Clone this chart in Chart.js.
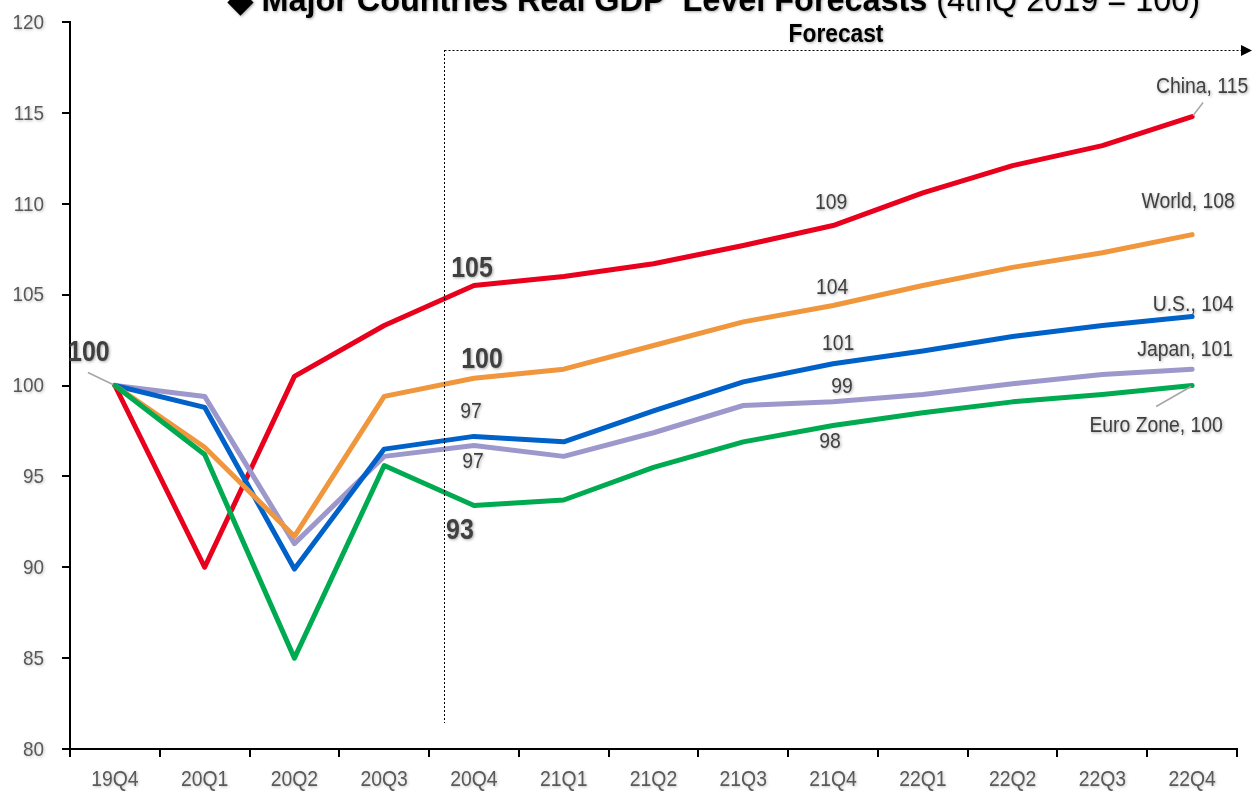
<!DOCTYPE html>
<html><head><meta charset="utf-8">
<script src="https://cdn.jsdelivr.net/npm/chart.js@4/dist/chart.umd.min.js"></script>
<style>html,body{margin:0;padding:0;background:#fff;}canvas{display:block;}</style>
</head><body>
<canvas id="c" width="1252" height="791"></canvas>
<script>
const categories = ['19Q4','20Q1','20Q2','20Q3','20Q4','21Q1','21Q2','21Q3','21Q4','22Q1','22Q2','22Q3','22Q4'];
const china = [100, 90.0, 100.5, 103.3, 105.5, 106.0, 106.7, 107.7, 108.8, 110.6, 112.1, 113.2, 114.8];
const world = [100, 96.6, 91.7, 99.4, 100.4, 100.9, 102.2, 103.5, 104.4, 105.5, 106.5, 107.3, 108.3];
const us    = [100, 98.8, 89.9, 96.5, 97.2, 96.9, 98.6, 100.2, 101.2, 101.9, 102.7, 103.3, 103.8];
const japan = [100, 99.4, 91.3, 96.1, 96.7, 96.1, 97.4, 98.9, 99.1, 99.5, 100.1, 100.6, 100.9];
const euro  = [100, 96.2, 85.0, 95.6, 93.4, 93.7, 95.5, 96.9, 97.8, 98.5, 99.1, 99.5, 100.0];
const yTicks = [80, 85, 90, 95, 100, 105, 110, 115, 120];
const titleMain = '◆ Major Countries Real GDP  Level Forecasts ';
const titleSub = '(4thQ 2019 = 100)';
const forecastText = 'Forecast';

const FONT = "'Liberation Sans', Arial, sans-serif";
const SX = 0.9; // horizontal squeeze to mimic a narrow face

// annotation texts (series index, category index, text, style, offset)
const labels = [
  {s:1, i:0, t:'100', bold:true, dx:-26, dy:-34, lead:[-27,-13,-2,-1]},
  {s:4, i:4, t:'105', bold:true, dx:-2, dy:-18},
  {s:1, i:4, t:'100', bold:true, dx:8, dy:-19},
  {s:2, i:4, t:'97', dx:-3, dy:-25},
  {s:3, i:4, t:'97', dx:-1, dy:15},
  {s:0, i:4, t:'93', bold:true, dx:-14, dy:25},
  {s:4, i:8, t:'109', dx:-2, dy:-24},
  {s:1, i:8, t:'104', dx:-1, dy:-19},
  {s:2, i:8, t:'101', dx:5, dy:-21},
  {s:3, i:8, t:'99', dx:9, dy:-16},
  {s:0, i:8, t:'98', dx:-3, dy:15},
  {s:4, i:12, t:'China, 115', dx:10, dy:-31, lead:[11,-14,1,-1]},
  {s:1, i:12, t:'World, 108', dx:-4, dy:-34},
  {s:2, i:12, t:'U.S., 104', dx:1, dy:-12},
  {s:3, i:12, t:'Japan, 101', dx:-7, dy:-20},
  {s:0, i:12, t:'Euro Zone, 100', dx:-36, dy:39, lead:[-36,21,-1,1]}
];

function txt(ctx, s, x, y, font, align, sx){
  ctx.save();
  ctx.font = font;
  ctx.translate(x, y);
  ctx.scale(sx, 1);
  ctx.textAlign = align;
  ctx.fillText(s, 0, 0);
  ctx.restore();
}
function shadowOn(ctx){ ctx.shadowColor = 'rgba(0,0,0,0.35)'; ctx.shadowBlur = 3; ctx.shadowOffsetX = 1; ctx.shadowOffsetY = 1; }

const annot = {
  id:'annot',
  afterDraw(chart){
    const ctx = chart.ctx, xs = chart.scales.x, ys = chart.scales.y;
    ctx.save();
    // forecast region lines
    const step = xs.getPixelForValue(4) - xs.getPixelForValue(3);
    const fx = Math.round(xs.getPixelForValue(3) + 0.67*step) + 0.5;
    ctx.strokeStyle = '#000'; ctx.lineWidth = 1; ctx.setLineDash([2,2]);
    ctx.beginPath(); ctx.moveTo(fx, 50); ctx.lineTo(fx, 723); ctx.stroke();
    ctx.beginPath(); ctx.moveTo(fx, 50.5); ctx.lineTo(1241, 50.5); ctx.stroke();
    ctx.setLineDash([]);
    ctx.fillStyle = '#000';
    ctx.beginPath(); ctx.moveTo(1241,45); ctx.lineTo(1252,50.5); ctx.lineTo(1241,56); ctx.closePath(); ctx.fill();

    ctx.textBaseline = 'middle';
    // tick labels
    ctx.fillStyle = '#595959';
    shadowOn(ctx); ctx.shadowColor = 'rgba(0,0,0,0.25)';
    for (const v of yTicks) txt(ctx, String(v), 44, ys.getPixelForValue(v) + 1, '21px ' + FONT, 'right', SX);
    categories.forEach((c, i) => txt(ctx, c, xs.getPixelForValue(i), 780, '22px ' + FONT, 'center', 0.88));

    shadowOn(ctx);
    // title
    ctx.fillStyle = '#000';
    ctx.textBaseline = 'alphabetic'; ctx.textAlign = 'left';
    ctx.font = 'bold 33px ' + FONT;
    const w1 = ctx.measureText(titleMain).width;
    ctx.font = '33px ' + FONT;
    const w2 = ctx.measureText(titleSub).width;
    const tsx = 972 / (w1 + w2), tx = 228;
    txt(ctx, titleMain, tx, 11, 'bold 33px ' + FONT, 'left', tsx);
    txt(ctx, titleSub, tx + w1*tsx, 11, '33px ' + FONT, 'left', tsx);
    // forecast text
    ctx.textBaseline = 'middle';
    txt(ctx, forecastText, 836, 35, 'bold 25px ' + FONT, 'center', 0.91);

    // data labels
    const dsets = chart.data.datasets;
    for (const l of labels){
      const v = dsets[l.s].data[l.i];
      const px = xs.getPixelForValue(l.i), py = ys.getPixelForValue(v);
      if (l.lead){
        ctx.save(); ctx.shadowColor='transparent';
        ctx.strokeStyle = '#a6a6a6'; ctx.lineWidth = 1.5;
        ctx.beginPath(); ctx.moveTo(px + l.lead[0], py + l.lead[1]); ctx.lineTo(px + l.lead[2], py + l.lead[3]); ctx.stroke();
        ctx.restore();
      }
      ctx.fillStyle = '#404040';
      txt(ctx, l.t, px + l.dx, py + l.dy + 1, (l.bold ? 'bold 29px ' : '22px ') + FONT, 'center', l.bold ? 0.86 : 0.88);
    }
    ctx.restore();
  }
};

const mk = (label, data, color) => ({label, data, borderColor: color, backgroundColor: color, borderWidth: 5,
  pointRadius: 0, tension: 0, borderCapStyle: 'round', borderJoinStyle: 'round', fill: false});

new Chart(document.getElementById('c'), {
  type: 'line',
  data: {
    labels: categories,
    datasets: [
      mk('Euro Zone', euro, '#00AA50'),
      mk('World', world, '#F0963C'),
      mk('U.S.', us, '#0062C8'),
      mk('Japan', japan, '#9C98CB'),
      mk('China', china, '#E8001C')
    ]
  },
  options: {
    responsive: false, animation: false,
    layout: {padding: {top: 22, right: 15, left: 0, bottom: 0}},
    plugins: {legend: {display: false}, tooltip: {enabled: false}, title: {display: false}},
    scales: {
      x: {
        type: 'category', offset: true,
        grid: {offset: true, drawOnChartArea: false, tickLength: 8, color: '#000', lineWidth: 2},
        border: {display: true, color: '#000', width: 2},
        ticks: {display: false, autoSkip: false},
        afterFit(s){ s.height = 42; }
      },
      y: {
        min: 80, max: 120,
        afterBuildTicks(s){ s.ticks = yTicks.map(v => ({value: v})); },
        grid: {drawOnChartArea: false, tickLength: 8, color: '#000', lineWidth: 2},
        border: {display: true, color: '#000', width: 2},
        ticks: {display: false},
        afterFit(s){ s.width = 70; }
      }
    }
  },
  plugins: [annot]
});
</script>
</body></html>
